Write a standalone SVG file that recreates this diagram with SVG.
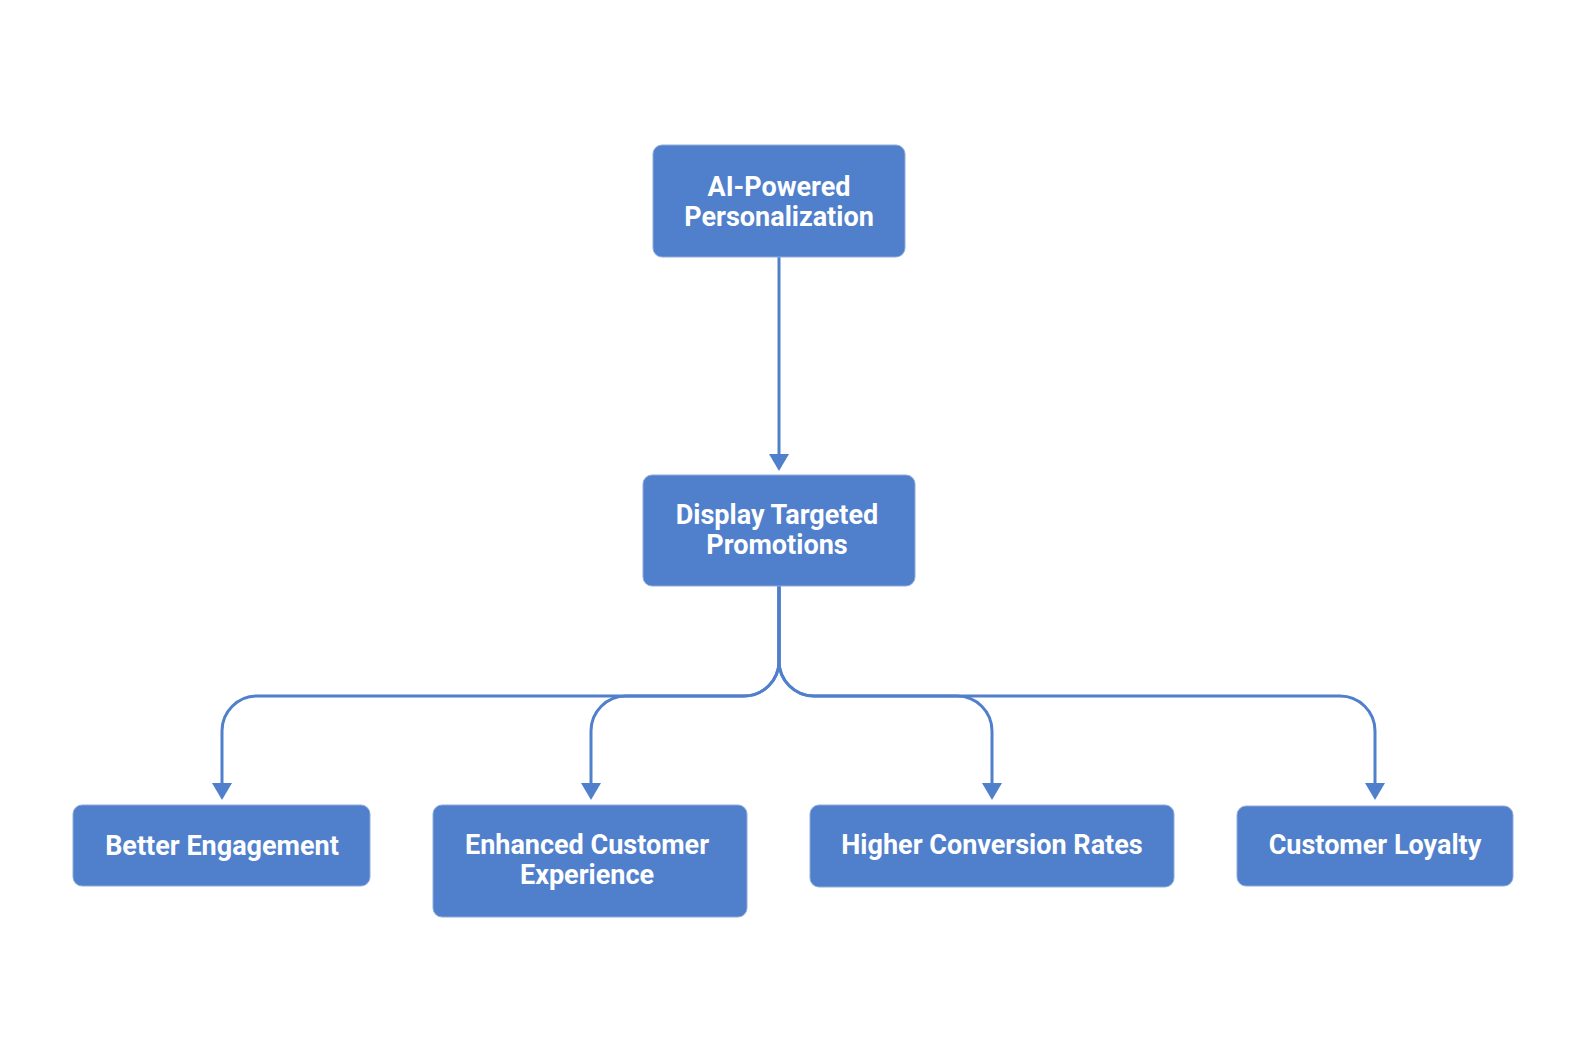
<svg xmlns="http://www.w3.org/2000/svg" width="1587" height="1062" viewBox="0 0 1587 1062">
  <style>
    .node rect { fill: #5080cc; stroke: #8eaadb; stroke-width: 1; }
    .node text { fill: #ffffff; font-family: Roboto, "Liberation Sans", sans-serif; font-weight: 700; font-size: 27px; text-anchor: middle; }
    .edge { fill: none; stroke: #5080cc; stroke-width: 3; }
  </style>
  <defs>
    <marker id="arrow" viewBox="0 0 17 20" refX="0" refY="10" markerWidth="17" markerHeight="20" markerUnits="userSpaceOnUse" orient="auto">
      <path d="M0,0 L17,10 L0,20 z" fill="#5080cc"/>
    </marker>
  </defs>
  <rect width="1587" height="1062" fill="#ffffff"/>
  <g id="connectors">
    <path class="edge" d="M779,257 V454" marker-end="url(#arrow)"/>
    <path class="edge" d="M779,586 V661 A35,35 0 0 1 744,696 H257 A35,35 0 0 0 222,731 V783" marker-end="url(#arrow)"/>
    <path class="edge" d="M779,586 V661 A35,35 0 0 1 744,696 H626 A35,35 0 0 0 591,731 V783" marker-end="url(#arrow)"/>
    <path class="edge" d="M779,586 V661 A35,35 0 0 0 814,696 H957 A35,35 0 0 1 992,731 V783" marker-end="url(#arrow)"/>
    <path class="edge" d="M779,586 V661 A35,35 0 0 0 814,696 H1340 A35,35 0 0 1 1375,731 V783" marker-end="url(#arrow)"/>
  </g>
  <g id="node-ai" class="node">
    <rect x="653" y="145" width="252" height="112" rx="9"/>
    <text x="779" y="196">AI-Powered</text>
    <text x="779" y="226">Personalization</text>
  </g>
  <g id="node-display" class="node">
    <rect x="643" y="475" width="272" height="111" rx="9"/>
    <text x="777" y="524">Display Targeted</text>
    <text x="777" y="554">Promotions</text>
  </g>
  <g id="node-engagement" class="node">
    <rect x="73" y="805" width="297" height="81" rx="9"/>
    <text x="222" y="855">Better Engagement</text>
  </g>
  <g id="node-experience" class="node">
    <rect x="433" y="805" width="314" height="112" rx="9"/>
    <text x="587" y="854">Enhanced Customer</text>
    <text x="587" y="884">Experience</text>
  </g>
  <g id="node-conversion" class="node">
    <rect x="810" y="805" width="364" height="82" rx="9"/>
    <text x="992" y="854">Higher Conversion Rates</text>
  </g>
  <g id="node-loyalty" class="node">
    <rect x="1237" y="806" width="276" height="80" rx="9"/>
    <text x="1375" y="854">Customer Loyalty</text>
  </g>
</svg>
